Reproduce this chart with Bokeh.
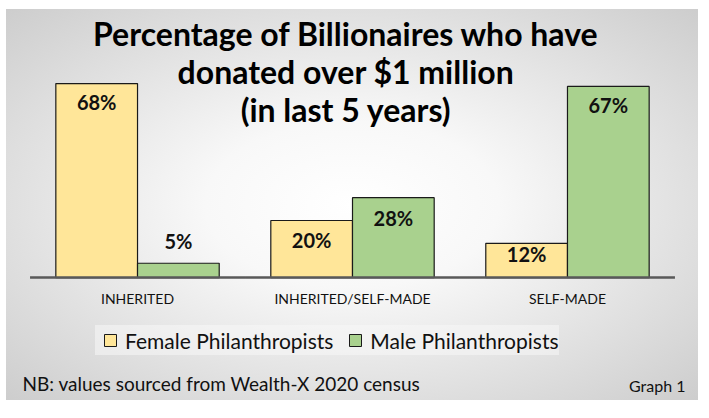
from bokeh.plotting import figure
from bokeh.models import FactorRange, Range1d, Label, Legend, LegendItem, ColumnDataSource
from bokeh.transform import dodge
from bokeh.core.properties import value
from bokeh.embed import file_html
from bokeh.resources import INLINE

categories = ["INHERITED", "INHERITED/SELF-MADE", "SELF-MADE"]
female = [68, 20, 12]
male = [5, 28, 67]
series_names = ["Female Philanthropists", "Male Philanthropists"]
title_lines = ["Percentage of Billionaires who have", "donated over $1 million", "(in last 5 years)"]
note_text = "NB: values sourced from Wealth-X 2020 census"
graph_tag = "Graph 1"

# styling
FEMALE_COLOR = "#FFE699"
MALE_COLOR = "#A9D18E"
OUTLINE = "#1a1a1a"
FONT = "Lato"
female_label_dy = [18, 20, 11]    # px from bar top (positive = down)
male_label_dy = [-22, 20, 19]

src = ColumnDataSource(dict(
    cat=categories,
    female=female,
    male=male,
    female_txt=[f"{v}%" for v in female],
    male_txt=[f"{v}%" for v in male],
    fdy=female_label_dy,
    mdy=male_label_dy,
))

W, H = 692, 391
p = figure(
    width=W, height=H,
    x_range=FactorRange(*categories, range_padding=0.073),
    y_range=Range1d(-43.1, 93.95),
    output_backend="svg", toolbar_location=None,
    min_border_left=0, min_border_right=0, min_border_top=0, min_border_bottom=0,
)
p.border_fill_color = None
p.background_fill_color = None
p.outline_line_color = None
p.styles = {
    "margin-left": "6px",
    "margin-top": "9px",
    "background": "radial-gradient(ellipse farthest-corner at 50% 50%, #ffffff 0%, #f8f8f8 30%, #cdcdcd 100%)",
}
p.xgrid.visible = False
p.ygrid.visible = False
p.xaxis.visible = False
p.yaxis.visible = False

p.vbar(x=dodge("cat", -0.19, range=p.x_range), top="female", width=0.38, source=src,
       fill_color=FEMALE_COLOR, line_color=OUTLINE, line_width=1.2)
p.vbar(x=dodge("cat", 0.19, range=p.x_range), top="male", width=0.38, source=src,
       fill_color=MALE_COLOR, line_color=OUTLINE, line_width=1.2)

# legend swatches: zero-size square markers on the bars' bases (only visible in the legend)
lf = p.scatter(x=dodge("cat", -0.19, range=p.x_range), y=0, source=src, marker="square", size=0,
               fill_color=FEMALE_COLOR, line_color=OUTLINE, line_width=1)
lm = p.scatter(x=dodge("cat", 0.19, range=p.x_range), y=0, source=src, marker="square", size=0,
               fill_color=MALE_COLOR, line_color=OUTLINE, line_width=1)

# category axis line (spans the full width of each category band)
p.segment(x0=dodge("cat", -0.5, range=p.x_range), x1=dodge("cat", 0.5, range=p.x_range),
          y0=0, y1=0, source=src, line_color="#595959", line_width=2.5)

# category labels
p.text(x="cat", y=0, text="cat", source=src, y_offset=21,
       text_align="center", text_baseline="middle",
       text_font=value(FONT), text_font_size="14px", text_color="#111111")

p.text(x=dodge("cat", -0.19, range=p.x_range), y="female", text="female_txt", source=src,
       y_offset="fdy", text_align="center", text_baseline="middle",
       text_font=value(FONT), text_font_style="bold", text_font_size="20px", text_color="#111111")
p.text(x=dodge("cat", 0.19, range=p.x_range), y="male", text="male_txt", source=src,
       y_offset="mdy", text_align="center", text_baseline="middle",
       text_font=value(FONT), text_font_style="bold", text_font_size="20px", text_color="#111111")

legend = Legend(items=[LegendItem(label=series_names[0], renderers=[lf]),
                       LegendItem(label=series_names[1], renderers=[lm])],
                location=(89, 45), orientation="horizontal",
                glyph_width=30, glyph_height=30, label_standoff=0, spacing=7,
                padding=4, margin=0,
                label_text_font=FONT, label_text_font_size="21px", label_text_color="#111111",
                background_fill_color="#f8f8f8", background_fill_alpha=0.55,
                border_line_color=None)
p.add_layout(legend, "center")

title_y = [367, 329, 291]
for line, ty in zip(title_lines, title_y):
    p.add_layout(Label(x=339.5, y=ty, x_units="screen", y_units="screen", text=line,
                       text_align="center", text_baseline="middle",
                       text_font=FONT, text_font_style="bold", text_font_size="32px",
                       text_color="#000000"))

p.add_layout(Label(x=16, y=17, x_units="screen", y_units="screen", text=note_text,
                   text_align="left", text_baseline="middle",
                   text_font=FONT, text_font_size="19px", text_color="#111111"))
p.add_layout(Label(x=679, y=15, x_units="screen", y_units="screen", text=graph_tag,
                   text_align="right", text_baseline="middle",
                   text_font=FONT, text_font_size="16px", text_color="#111111"))

open("out.html", "w").write(file_html(p, INLINE))
